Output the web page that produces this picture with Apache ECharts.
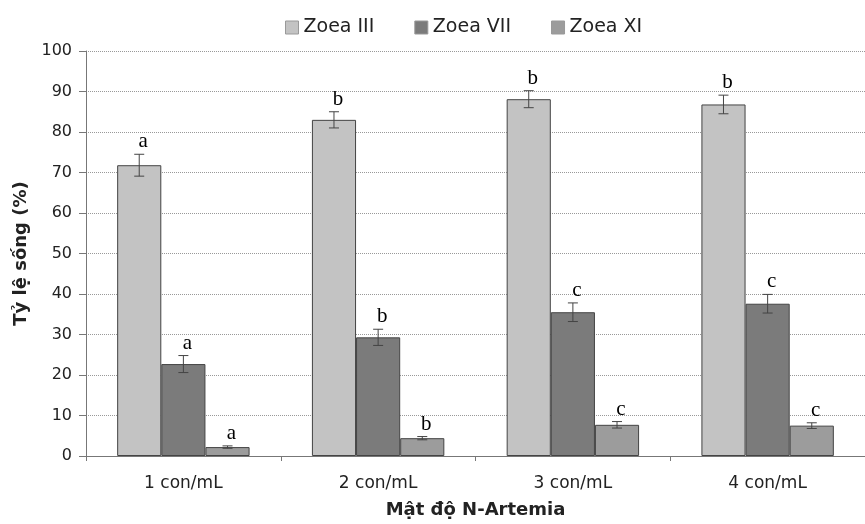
<!DOCTYPE html>
<html>
<head>
<meta charset="utf-8">
<script src="https://cdn.jsdelivr.net/npm/echarts@6/dist/echarts.min.js"></script>
<style>
  html, body { margin: 0; padding: 0; background: #fff; }
  #chart-container { width: 865px; height: 524px; }
</style>
</head>
<body>
<div id="chart-container"></div>
<script>
var categories = ["1 con/mL", "2 con/mL", "3 con/mL", "4 con/mL"];
var seriesNames = ["Zoea III", "Zoea VII", "Zoea XI"];
var zoea3 = [71.8, 83.0, 88.1, 86.8];
var zoea7 = [22.7, 29.3, 35.5, 37.6];
var zoea11 = [2.2, 4.4, 7.7, 7.5];
var err3 = [2.7, 2.0, 2.1, 2.3];
var err7 = [2.1, 2.0, 2.3, 2.3];
var err11 = [0.3, 0.4, 0.8, 0.7];
var letters3 = ["a", "b", "b", "b"];
var letters7 = ["a", "b", "c", "c"];
var letters11 = ["a", "b", "c", "c"];

var colors = ["#c3c3c3", "#7b7b7b", "#9c9c9c"];
var catGap = 0.32;
var font = "'DejaVu Sans', sans-serif";

var values = [zoea3, zoea7, zoea11];
var errors = [err3, err7, err11];
var letters = [letters3, letters7, letters11];

var dom = document.getElementById("chart-container");
var myChart = echarts.init(dom, null, { renderer: "canvas" });

// error bars + significance letters, drawn over each bar
function errorSeries(k) {
  var data = [];
  for (var i = 0; i < categories.length; i++) {
    data.push([i, values[k][i], errors[k][i], letters[k][i]]);
  }
  return {
    type: "custom",
    name: seriesNames[k] + " err",
    z: 10,
    silent: true,
    data: data,
    renderItem: function (params, api) {
      var band = api.size([1, 0])[0];
      var barW = band * (1 - catGap) / 3;
      var c = api.coord([api.value(0), api.value(1)]);
      var x = c[0] - 1.5 * barW + (k + 0.5) * barW;
      var v = api.value(1), e = api.value(2);
      var top = api.coord([api.value(0), v + e])[1];
      var bot = api.coord([api.value(0), v - e])[1];
      var st = { stroke: "#444", lineWidth: 1 };
      return {
        type: "group",
        children: [
          { type: "line", shape: { x1: x, y1: top, x2: x, y2: bot }, style: st },
          { type: "line", shape: { x1: x - 5, y1: top, x2: x + 5, y2: top }, style: st },
          { type: "line", shape: { x1: x - 5, y1: bot, x2: x + 5, y2: bot }, style: st },
          {
            type: "text",
            style: {
              x: x + 4, y: top - 2,
              text: api.value(3),
              font: "21px 'Liberation Serif', serif",
              fill: "#000",
              align: "center",
              verticalAlign: "bottom"
            }
          }
        ]
      };
    }
  };
}

var barSeries = seriesNames.map(function (name, k) {
  return {
    name: name,
    type: "bar",
    data: values[k],
    barGap: "0%",
    barCategoryGap: (catGap * 100) + "%",
    itemStyle: { color: colors[k], borderColor: "#444", borderWidth: 1 }
  };
});

var option = {
  animation: false,
  color: colors,
  legend: {
    data: seriesNames.map(function (n, k) {
      return { name: n, itemStyle: { color: colors[k], borderColor: "#999", borderWidth: 1 } };
    }),
    top: 13,
    left: 280,
    itemWidth: 13,
    itemHeight: 13,
    itemGap: 40,
    icon: "rect",
    textStyle: { fontFamily: font, fontSize: 19, color: "#222", padding: [0, 0, 0, 0] }
  },
  grid: { left: 86, right: 0, top: 51, bottom: 67 },
  xAxis: {
    type: "category",
    data: categories,
    name: "Mật độ N-Artemia",
    nameLocation: "middle",
    nameGap: 45,
    nameTextStyle: { fontFamily: font, fontSize: 18, fontWeight: "bold", color: "#222" },
    axisLine: { lineStyle: { color: "#777" } },
    axisTick: { show: true, length: 5, lineStyle: { color: "#777" } },
    axisLabel: { fontFamily: font, fontSize: 17, color: "#222", margin: 19 }
  },
  yAxis: {
    type: "value",
    min: 0,
    max: 100,
    interval: 10,
    name: "Tỷ lệ sống (%)",
    nameLocation: "middle",
    nameGap: 48,
    nameTextStyle: { fontFamily: font, fontSize: 18, fontWeight: "bold", color: "#222" },
    axisLine: { show: true, lineStyle: { color: "#777" } },
    axisTick: { show: true, length: 7, lineStyle: { color: "#777" } },
    axisLabel: { fontFamily: font, fontSize: 16, color: "#222", margin: 14 },
    splitLine: { lineStyle: { color: "#999", type: "dotted" } }
  },
  series: barSeries.concat([errorSeries(0), errorSeries(1), errorSeries(2)])
};

myChart.setOption(option);
window.addEventListener("resize", myChart.resize);
</script>
</body>
</html>
